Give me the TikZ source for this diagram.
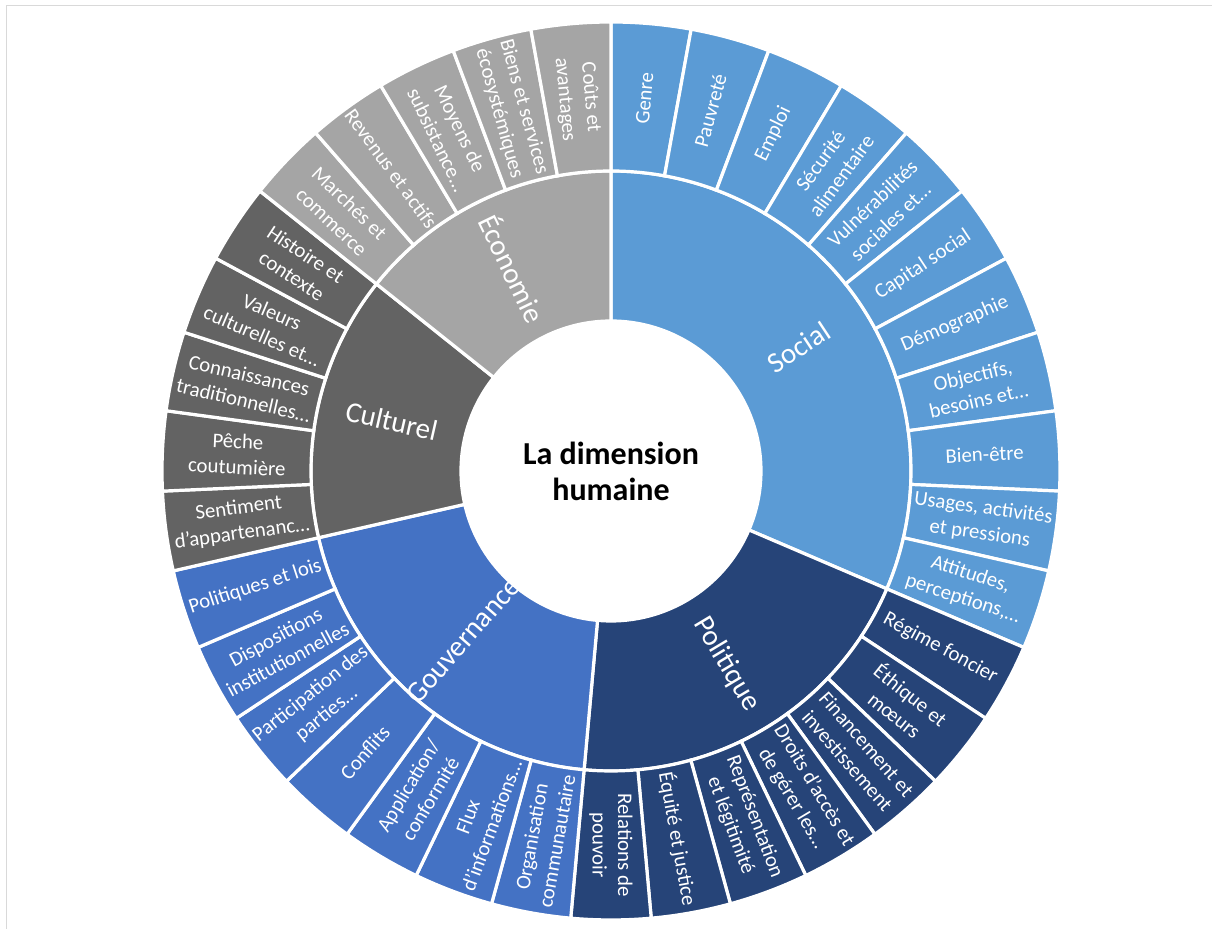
\documentclass[tikz,border=0pt]{standalone}
\usepackage{fontspec}
\setmainfont{Carlito}
\usepackage{tikz}
\definecolor{colorSocial}{HTML}{5B9BD5}
\definecolor{colorPolitique}{HTML}{264478}
\definecolor{colorGouvernance}{HTML}{4472C4}
\definecolor{colorCulturel}{HTML}{636363}
\definecolor{colorEconomie}{HTML}{A5A5A5}
\definecolor{colorFrame}{HTML}{D9D9D9}
\tikzset{
  segment/.style={draw=white, line width=1.6pt},
  leaf label/.style={text=white, align=center, inner sep=0pt, font=\fontsize{10.4}{12.8}\selectfont},
  group label/.style={text=white, inner sep=0pt, font=\fontsize{14.5}{16.5}\selectfont},
  centre label/.style={align=center, inner sep=0pt, font=\bfseries\fontsize{16}{18}\selectfont}
}
\def\segw{10.2857143}
\def\rHole{75pt}
\def\rMid{150pt}
\def\rOut{224.5pt}
% sector: first leaf, number of leaves, inner radius, outer radius, colour
\newcommand{\sunsector}[5]{%
  \pgfmathsetmacro{\aFrom}{90-\segw*#1}%
  \pgfmathsetmacro{\aTo}{90-\segw*(#1+#2)}%
  \filldraw[segment, fill=#5] (\aFrom:#3) arc[start angle=\aFrom, end angle=\aTo, radius=#3]
    -- (\aTo:#4) arc[start angle=\aTo, end angle=\aFrom, radius=#4] -- cycle;
}
% label: first leaf, number of leaves, radius, style, name, text
\newcommand{\sunlabel}[6]{%
  \pgfmathsetmacro{\aMid}{90-\segw*(#1+#2/2)}%
  \pgfmathsetmacro{\aRot}{\aMid>-90.5 ? \aMid : \aMid+180}%
  \node[#4, rotate=\aRot] (#5) at (\aMid:#3) {#6};
}

\begin{document}
\begin{tikzpicture}
\useasboundingbox (-305.5pt,-229pt) rectangle (300.5pt,235.5pt);
\draw[colorFrame, line width=0.6pt] (300.5pt,232.85pt) -- (-302.15pt,232.85pt) -- (-302.15pt,-229pt);

\sunsector{0}{11}{\rHole}{\rMid}{colorSocial}
\sunsector{11}{7}{\rHole}{\rMid}{colorPolitique}
\sunsector{18}{7}{\rHole}{\rMid}{colorGouvernance}
\sunsector{25}{5}{\rHole}{\rMid}{colorCulturel}
\sunsector{30}{5}{\rHole}{\rMid}{colorEconomie}
\foreach \i in {0,...,10} {\sunsector{\i}{1}{\rMid}{\rOut}{colorSocial}}
\foreach \i in {11,...,17} {\sunsector{\i}{1}{\rMid}{\rOut}{colorPolitique}}
\foreach \i in {18,...,24} {\sunsector{\i}{1}{\rMid}{\rOut}{colorGouvernance}}
\foreach \i in {25,...,29} {\sunsector{\i}{1}{\rMid}{\rOut}{colorCulturel}}
\foreach \i in {30,...,34} {\sunsector{\i}{1}{\rMid}{\rOut}{colorEconomie}}

\node[centre label] (centre) at (0,0) {La dimension\\humaine};

\sunlabel{0}{11}{112.5pt}{group label}{social}{Social}
\sunlabel{11}{7}{112.5pt}{group label}{politique}{Politique}
\sunlabel{18}{7}{112.5pt}{group label}{gouvernance}{Gouvernance}
\sunlabel{25}{5}{112.5pt}{group label}{culturel}{Culturel}
\sunlabel{30}{5}{112.5pt}{group label}{economie}{Économie}

\sunlabel{0}{1}{187pt}{leaf label}{genre}{Genre}
\sunlabel{1}{1}{187pt}{leaf label}{pauvrete}{Pauvreté}
\sunlabel{2}{1}{187pt}{leaf label}{emploi}{Emploi}
\sunlabel{3}{1}{187pt}{leaf label}{securite}{Sécurité\\alimentaire}
\sunlabel{4}{1}{187pt}{leaf label}{vulnerabilites}{Vulnérabilités\\sociales et…}
\sunlabel{5}{1}{187pt}{leaf label}{capital}{Capital social}
\sunlabel{6}{1}{187pt}{leaf label}{demographie}{Démographie}
\sunlabel{7}{1}{187pt}{leaf label}{objectifs}{Objectifs,\\besoins et…}
\sunlabel{8}{1}{187pt}{leaf label}{bienetre}{Bien-être}
\sunlabel{9}{1}{187pt}{leaf label}{usages}{Usages, activités\\et pressions}
\sunlabel{10}{1}{187pt}{leaf label}{attitudes}{Attitudes,\\perceptions,…}
\sunlabel{11}{1}{187pt}{leaf label}{regime}{Régime foncier}
\sunlabel{12}{1}{187pt}{leaf label}{ethique}{Éthique et\\mœurs}
\sunlabel{13}{1}{187pt}{leaf label}{financement}{Financement et\\investissement}
\sunlabel{14}{1}{187pt}{leaf label}{droits}{Droits d'accès et\\de gérer les…}
\sunlabel{15}{1}{187pt}{leaf label}{representation}{Représentation\\et légitimité}
\sunlabel{16}{1}{187pt}{leaf label}{equite}{Équité et justice}
\sunlabel{17}{1}{187pt}{leaf label}{relations}{Relations de\\pouvoir}
\sunlabel{18}{1}{187pt}{leaf label}{organisation}{Organisation\\communautaire}
\sunlabel{19}{1}{187pt}{leaf label}{flux}{Flux\\d'informations…}
\sunlabel{20}{1}{187pt}{leaf label}{application}{Application/\\conformité}
\sunlabel{21}{1}{187pt}{leaf label}{conflits}{Conflits}
\sunlabel{22}{1}{187pt}{leaf label}{participation}{Participation des\\parties…}
\sunlabel{23}{1}{187pt}{leaf label}{dispositions}{Dispositions\\institutionnelles}
\sunlabel{24}{1}{187pt}{leaf label}{politiques}{Politiques et lois}
\sunlabel{25}{1}{187pt}{leaf label}{sentiment}{Sentiment\\d'appartenanc…}
\sunlabel{26}{1}{187pt}{leaf label}{peche}{Pêche\\coutumière}
\sunlabel{27}{1}{187pt}{leaf label}{connaissances}{Connaissances\\traditionnelles…}
\sunlabel{28}{1}{187pt}{leaf label}{valeurs}{Valeurs\\culturelles et…}
\sunlabel{29}{1}{187pt}{leaf label}{histoire}{Histoire et\\contexte}
\sunlabel{30}{1}{187pt}{leaf label}{marches}{Marchés et\\commerce}
\sunlabel{31}{1}{187pt}{leaf label}{revenus}{Revenus et actifs}
\sunlabel{32}{1}{187pt}{leaf label}{moyens}{Moyens de\\subsistance…}
\sunlabel{33}{1}{187pt}{leaf label}{biens}{Biens et services\\écosystémiques}
\sunlabel{34}{1}{187pt}{leaf label}{couts}{Coûts et\\avantages}
\end{tikzpicture}
\end{document}
